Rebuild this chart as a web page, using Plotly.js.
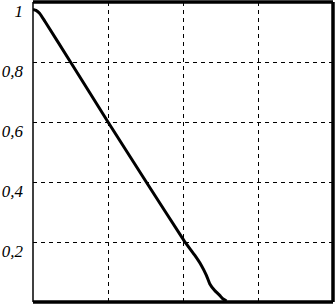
<!DOCTYPE html>
<html>
<head>
<meta charset="utf-8">
<script src="https://cdn.plot.ly/plotly-3.0.1.min.js"></script>
<style>html,body{margin:0;padding:0;background:#fff;}#chart{width:336px;height:304px;}</style>
</head>
<body>
<div id="chart"></div>
<script>
var xValues = [0, 0.04, 0.09, 0.16, 0.5, 1.0, 1.51, 2.02, 2.156, 2.245, 2.312, 2.356, 2.423, 2.489, 2.535, 2.58];
var yValues = [0.975, 0.972, 0.962, 0.935, 0.80, 0.60, 0.40, 0.202, 0.156, 0.122, 0.089, 0.061, 0.038, 0.022, 0.01, 0.003];
var yTickVals = [0.2, 0.4, 0.6, 0.8, 1];
var yTickText = ["0,2", "0,4", "0,6", "0,8", "1"];
var xGridVals = [1, 2, 3];

var trace = {
  x: xValues, y: yValues, type: 'scatter', mode: 'lines',
  line: {color: '#000', width: 3, shape: 'spline', smoothing: 0.3},
  hoverinfo: 'skip'
};

var layout = {
  width: 336, height: 304,
  margin: {l: 33, r: 3, t: 2, b: 2, pad: 0},
  paper_bgcolor: '#fff', plot_bgcolor: '#fff',
  showlegend: false,
  font: {family: 'Liberation Serif', size: 17, color: '#000'},
  xaxis: {
    range: [0, 4], tickvals: xGridVals, showticklabels: false,
    showgrid: true, gridcolor: '#000', gridwidth: 1, griddash: '4px,4px',
    zeroline: false, showline: false, ticks: ''
  },
  yaxis: {
    range: [0, 1], tickvals: yTickVals, ticktext: yTickText,
    showgrid: false,
    zeroline: false, showline: false, ticks: '',
    ticklabelshift: 9, ticklabelstandoff: 9, ticklabeloverflow: 'allow',
    tickfont: {family: 'Liberation Serif', size: 17, color: '#000', style: 'italic'}
  },
  yaxis2: {
    range: [0, 1], tickvals: yTickVals.slice(0, 4), overlaying: 'y',
    showticklabels: false,
    showgrid: true, gridcolor: '#000', gridwidth: 1, griddash: '4px,4px',
    zeroline: false, showline: false, ticks: ''
  },
  shapes: [
    {type: 'line', xref: 'paper', yref: 'paper', x0: 0, x1: 0, y0: 0, y1: 1, line: {color: '#000', width: 1.5}},
    {type: 'line', xref: 'paper', yref: 'paper', x0: 0, x1: 1, y0: 1, y1: 1, line: {color: '#000', width: 3.5}},
    {type: 'line', xref: 'paper', yref: 'paper', x0: 1, x1: 1, y0: 0, y1: 1, line: {color: '#000', width: 3.5}},
    {type: 'line', xref: 'paper', yref: 'paper', x0: 0, x1: 1, y0: 0, y1: 0, line: {color: '#000', width: 3.5}}
  ]
};

var gridTrace = {x: [0], y: [0], yaxis: 'y2', mode: 'markers', marker: {opacity: 0}, hoverinfo: 'skip'};

Plotly.newPlot('chart', [gridTrace, trace], layout, {staticPlot: true, displayModeBar: false});
</script>
</body>
</html>
